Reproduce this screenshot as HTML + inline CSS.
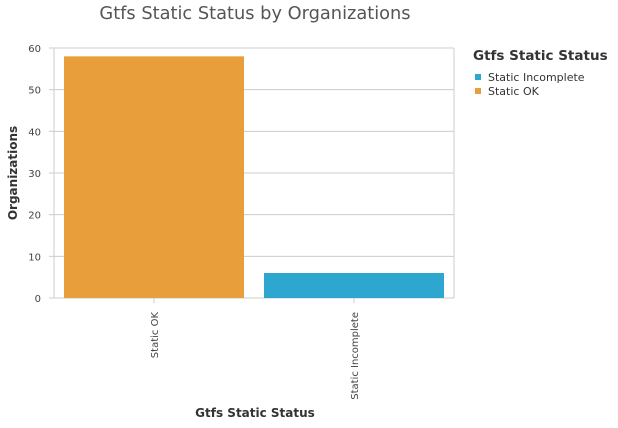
<!DOCTYPE html>
<html><head><meta charset="utf-8"><style>
body{margin:0;background:#fff;font-family:"DejaVu Sans","Liberation Sans",sans-serif;}
svg text{font-family:"DejaVu Sans","Liberation Sans",sans-serif;}
</style></head><body>
<svg id="chart" width="618" height="424">
<text x="255" y="19" font-size="17.8" fill="#555" text-anchor="middle">Gtfs Static Status by Organizations</text>
<g id="grid"></g><g id="bars"></g><g id="axes"></g>
<text transform="translate(17,173) rotate(-90)" font-size="12" font-weight="bold" fill="#333" text-anchor="middle">Organizations</text>
<text x="255" y="417" font-size="12" font-weight="bold" fill="#333" text-anchor="middle">Gtfs Static Status</text>
<text x="473" y="60" font-size="13.5" font-weight="bold" fill="#333">Gtfs Static Status</text>
<g><rect x="475" y="74" width="6" height="6" fill="#2ea7d0"/><text x="488" y="81" font-size="11" fill="#333">Static Incomplete</text></g>
<g><rect x="475" y="88" width="6" height="6" fill="#e99e3c"/><text x="488" y="95" font-size="11" fill="#333">Static OK</text></g>
</svg>
<script>
const categories=["Static OK","Static Incomplete"];
const values=[58,6];
const colors=["#e99e3c","#2ea7d0"];
const yTicks=[0,10,20,30,40,50,60];
const ns="http://www.w3.org/2000/svg";
const L=54,R=454,T=48,B=298,yMax=60;
const y=v=>B-(v/yMax)*(B-T);
const band=(R-L)/categories.length;
const x=i=>L+i*band;
function mk(tag,attrs,parent){const e=document.createElementNS(ns,tag);for(const k in attrs)e.setAttribute(k,attrs[k]);document.getElementById(parent).appendChild(e);return e;}
yTicks.forEach(t=>{
 const g=mk("line",{x1:L,x2:R,y1:y(t),y2:y(t),stroke:"#ccc"},"grid");
 
 
 const tk=mk("line",{x1:L-5,x2:L,y1:y(t),y2:y(t),stroke:"#ccc"},"axes");
 const tx=mk("text",{x:L-13,y:y(t)+4,"font-size":"10","fill":"#444","text-anchor":"end"},"axes");
 tx.textContent=t;
 
 
});
mk("line",{x1:R,x2:R,y1:T,y2:B,stroke:"#ccc"},"axes");
mk("line",{x1:L,x2:L,y1:T,y2:B,stroke:"#ccc"},"axes");
categories.forEach((c,i)=>{
 const r=mk("rect",{x:x(i)+10,y:y(values[i]),width:band-20,height:B-y(values[i]),fill:colors[i]},"bars");
 
 
 const cx=x(i)+band/2;
 mk("line",{x1:cx,x2:cx,y1:B,y2:B+5,stroke:"#ccc"},"axes");
 const t=mk("text",{transform:`translate(${cx+4},${B+14}) rotate(-90)`,"font-size":"10","fill":"#444","text-anchor":"end"},"axes");
 t.textContent=c;
 
 
});
</script>
</body></html>
